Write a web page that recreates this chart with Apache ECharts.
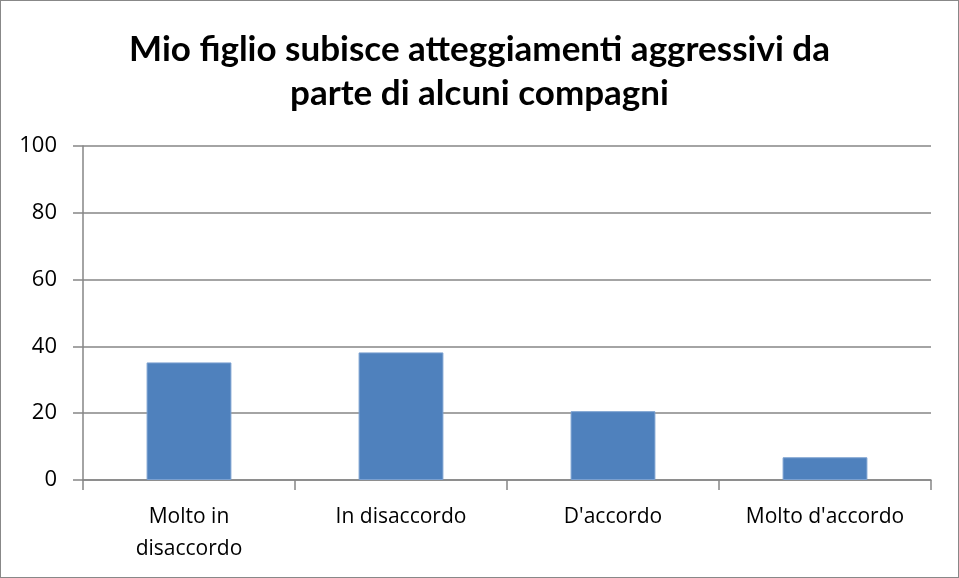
<!DOCTYPE html>
<html>
<head>
<meta charset="utf-8">
<script src="https://cdn.jsdelivr.net/npm/echarts@6/dist/echarts.min.js"></script>
<style>
  html, body { margin: 0; padding: 0; background: #fff; }
  #chart { width: 959px; height: 578px; box-sizing: border-box; border: 1px solid #888; }
</style>
</head>
<body>
<div id="chart"></div>
<script>
// dati
const categories = ['Molto in\ndisaccordo', 'In disaccordo', "D'accordo", "Molto d'accordo"]
const values = [35.2, 38.2, 20.6, 6.8]
const titleText = 'Mio figlio subisce atteggiamenti aggressivi da\nparte di alcuni compagni'

const chart = echarts.init(document.getElementById('chart'))

const option = {
  animation: false,
  title: {
    text: titleText,
    left: 'center',
    top: 22,
    textStyle: {
      fontFamily: 'Lato',
      fontWeight: 'bold',
      fontSize: 35,
      lineHeight: 44,
      color: '#000'
    }
  },
  grid: {
    left: 82,
    right: 27,
    top: 145,
    bottom: 97
  },
  xAxis: {
    type: 'category',
    data: categories,
    axisLine: { lineStyle: { color: '#868686', width: 1.5 } },
    axisTick: { show: true, interval: 0, length: 10, lineStyle: { color: '#868686', width: 1.5 } },
    axisLabel: {
      interval: 0,
      hideOverlap: false,
      color: '#000',
      fontFamily: 'Open Sans',
      fontSize: 21,
      lineHeight: 32,
      margin: 21
    }
  },
  yAxis: {
    type: 'value',
    min: 0,
    max: 100,
    interval: 20,
    axisLine: { show: true, lineStyle: { color: '#868686', width: 1.5 } },
    axisTick: { show: true, length: 10, lineStyle: { color: '#868686', width: 1.5 } },
    axisLabel: {
      color: '#000',
      fontFamily: 'Open Sans',
      fontSize: 22,
      margin: 26
    },
    splitLine: { lineStyle: { color: '#868686', width: 1.5 } }
  },
  series: [{
    type: 'bar',
    data: values,
    barWidth: '40%',
    itemStyle: {
      color: '#4f81bd',
      borderColor: '#7ba0d0',
      borderWidth: 1
    }
  }]
}

chart.setOption(option)
</script>
</body>
</html>
